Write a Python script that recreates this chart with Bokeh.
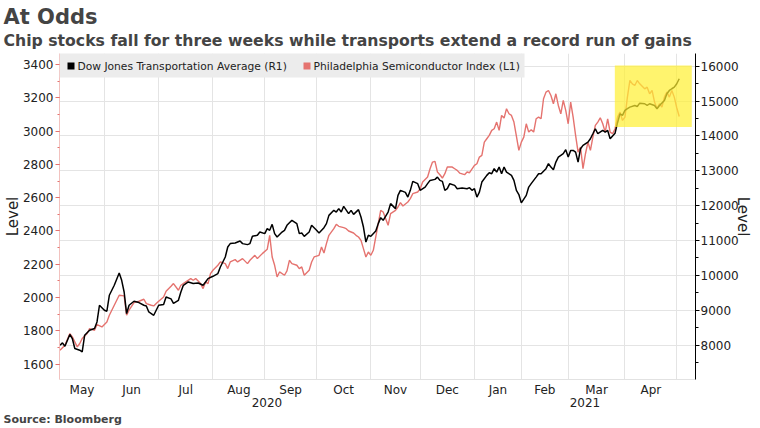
from bokeh.plotting import figure
from bokeh.models import (Range1d, LinearAxis, FixedTicker, Grid, BoxAnnotation, Label, Title)
from bokeh.embed import file_html
from bokeh.resources import INLINE

# ---------------- data (x = trading-day index counted from 2020-05-01) -------------
month_names = ["May", "Jun", "Jul", "Aug", "Sep", "Oct", "Nov", "Dec", "Jan", "Feb", "Mar", "Apr"]
month_start_day = [0, 20, 42, 64, 85, 106, 128, 148, 170, 189, 208, 231, 252]
year_names = ["2020", "2021"]
year_start_day = [0, 170]
series_names = ["Dow Jones Transportation Average  (R1)", "Philadelphia Semiconductor Index (L1)"]

dow_day = [2, 3, 4, 6, 7, 8, 10, 11, 12, 14, 16, 17, 18, 20, 21, 22, 24, 26, 27, 28, 29, 30, 32, 34,
           36, 37, 38, 40, 41, 42, 44, 45, 47, 48, 50, 51, 52, 54, 56, 58, 60, 61, 62, 64, 66, 67,
           69, 70, 71, 73, 75, 76, 78, 79, 80, 82, 83, 85, 86, 87, 88, 89, 90, 92, 93, 94, 95, 96,
           98, 99, 100, 101, 103, 104, 106, 107, 109, 110, 111, 113, 114, 115, 116, 117, 119, 120,
           121, 123, 124, 125, 126, 127, 128, 130, 131, 132, 133, 135, 136, 138, 139, 140, 142, 143,
           144, 145, 147, 148, 150, 151, 152, 154, 155, 156, 157, 158, 159, 160, 162, 163, 165, 167,
           168, 169, 170, 171, 172, 173, 175, 176, 177, 178, 179, 180, 181, 182, 183, 185, 186, 187,
           188, 189, 191, 192, 193, 195, 196, 197, 199, 200, 201, 202, 203, 204, 206, 207, 208, 209,
           210, 211, 212, 213, 214, 216, 217, 218, 219, 220, 222, 223, 224, 225, 227, 228, 229, 230,
           231, 232, 233, 235, 236, 237, 239, 240, 241, 243, 244, 245, 247, 248, 249, 250, 251, 252,
           253]
dow_level = [7998, 8064, 7970, 8305, 8190, 7903, 7855, 7806, 8285, 8428, 8476, 8666, 9144, 9001,
             8972, 9430, 9717, 10070, 9860, 9525, 8906, 9144, 9259, 9221, 9144, 9124, 8952, 8857,
             9001, 9144, 9164, 9382, 9326, 9200, 9287, 9525, 9717, 9812, 9766, 9783, 9717, 9812,
             9909, 9975, 10052, 10241, 10528, 10814, 10912, 10929, 10986, 10912, 10883, 10912,
             11121, 11150, 11244, 11198, 11341, 11293, 11465, 11198, 11101, 11244, 11293, 11436,
             11510, 11579, 11485, 11198, 11216, 11121, 11244, 11436, 11293, 11216, 11370, 11485,
             11722, 11866, 11817, 11915, 11817, 11980, 11771, 11866, 11751, 11886, 11674, 11387,
             10958, 11150, 11121, 11273, 11485, 11657, 11579, 11817, 12058, 11915, 12296, 12439,
             12380, 12247, 12439, 12697, 12631, 12439, 12533, 12631, 12725, 12754, 12820, 12725,
             12697, 12439, 12487, 12631, 12582, 12487, 12505, 12487, 12516, 12439, 12487, 12247,
             12390, 12677, 12869, 12946, 12917, 13061, 12963, 13107, 12917, 13107, 12963, 12869,
             12725, 12439, 12320, 12080, 12296, 12533, 12631, 12820, 12917, 12917, 13061, 13204,
             13107, 13032, 13250, 13393, 13490, 13605, 13393, 13585, 13585, 13536, 13250, 13633,
             13728, 13823, 13920, 14063, 14207, 14063, 14158, 14109, 14158, 13920, 14080, 14380,
             14636, 14588, 14731, 14780, 14825, 14874, 14845, 14940, 14923, 14874, 14923, 14874,
             14780, 14874, 15017, 15209, 15304, 15353, 15398, 15496, 15639]

sox_day = [2, 4, 6, 7, 9, 10, 11, 13, 14, 16, 17, 19, 21, 22, 24, 26, 28, 29, 30, 32, 34, 36, 37,
           39, 40, 41, 42, 44, 45, 47, 48, 50, 51, 53, 55, 56, 57, 59, 60, 61, 62, 63, 64, 66, 67,
           69, 70, 71, 73, 74, 76, 78, 79, 81, 82, 84, 86, 87, 88, 89, 90, 91, 93, 94, 95, 96, 98,
           99, 100, 101, 103, 104, 105, 107, 108, 109, 110, 111, 113, 114, 115, 117, 118, 119, 121,
           122, 123, 124, 125, 126, 127, 128, 129, 130, 131, 132, 133, 135, 136, 138, 139, 140, 141,
           143, 144, 145, 147, 148, 149, 151, 152, 153, 154, 155, 156, 157, 158, 159, 161, 162, 163,
           164, 166, 167, 168, 170, 171, 172, 173, 174, 175, 176, 177, 178, 179, 180, 181, 182, 183,
           184, 185, 186, 187, 188, 189, 190, 191, 192, 193, 194, 195, 196, 197, 198, 199, 200, 201,
           202, 203, 204, 205, 206, 207, 208, 209, 210, 211, 212, 213, 214, 215, 216, 217, 218, 219,
           220, 221, 222, 223, 224, 225, 226, 227, 228, 229, 230, 231, 232, 233, 234, 235, 236, 237,
           239, 240, 241, 242, 243, 244, 245, 246, 247, 248, 249, 250, 251, 252, 253]
sox_level = [1684, 1714, 1784, 1764, 1704, 1724, 1754, 1784, 1814, 1804, 1838, 1824, 1854, 1894,
             1954, 2014, 2010, 1894, 1924, 1970, 1978, 1990, 1964, 1954, 1950, 1964, 1978, 2004,
             2038, 2068, 2084, 2044, 2074, 2094, 2114, 2104, 2114, 2084, 2054, 2094, 2084, 2144,
             2164, 2194, 2214, 2204, 2174, 2214, 2228, 2214, 2234, 2204, 2224, 2254, 2234, 2264,
             2290, 2374, 2244, 2194, 2124, 2154, 2134, 2160, 2224, 2204, 2194, 2174, 2184, 2134,
             2164, 2214, 2244, 2254, 2304, 2268, 2324, 2374, 2414, 2440, 2428, 2420, 2414, 2400,
             2388, 2374, 2364, 2344, 2294, 2244, 2274, 2254, 2284, 2364, 2444, 2524, 2514, 2434,
             2504, 2524, 2544, 2570, 2550, 2574, 2594, 2624, 2634, 2654, 2694, 2724, 2774, 2814,
             2818, 2754, 2738, 2718, 2744, 2784, 2784, 2774, 2764, 2748, 2738, 2754, 2750, 2794,
             2804, 2844, 2854, 2934, 2954, 2974, 3004, 3014, 3054, 3004, 3094, 3078, 3134, 3104,
             3094, 3054, 2970, 2884, 2934, 2964, 3044, 2994, 3008, 2994, 3074, 3084, 3074, 3194,
             3234, 3244, 3214, 3164, 3224, 3154, 3104, 3184, 3124, 3044, 3174, 3084, 2974, 2874,
             2904, 2774, 2864, 2934, 2884, 2964, 3034, 3054, 3080, 3044, 2994, 3074, 2994, 2984,
             3014, 3084, 3114, 3064, 3084, 3204, 3304, 3284, 3274, 3304, 3284, 3254, 3264, 3224,
             3244, 3174, 3134, 3164, 3144, 3204, 3234, 3204, 3244, 3204, 3140, 3088]

sox_ticks = list(range(1600, 3401, 200))
dow_ticks = list(range(8000, 16001, 1000))

# ---------------- styling constants -------------
RED = "#e5736f"
FONT = "DejaVu Sans"
TXT = "#222222"
X_START, X_END = 1.8, 259.6
SOX_RANGE = (1508, 3466)
DOW_RANGE = (7015, 16364)

p = figure(width=760, height=428, output_backend="svg", toolbar_location=None,
           x_range=Range1d(X_START, X_END), y_range=Range1d(*SOX_RANGE),
           min_border_left=58, min_border_right=65, min_border_top=53, min_border_bottom=49)
p.outline_line_color = None
p.background_fill_color = "white"
p.extra_y_ranges = {"dow": Range1d(*DOW_RANGE)}

# month labels centred in each (visible) month, grid lines at month boundaries
month_centres = []
for a, b in zip(month_start_day[:-1], month_start_day[1:]):
    month_centres.append(round((max(a, X_START) + min(b, X_END)) / 2, 2))
year_bounds = year_start_day + [X_END]
year_centres = [round((max(a, X_START) + min(b, X_END)) / 2, 2)
                for a, b in zip(year_bounds[:-1], year_bounds[1:])]

xa = p.xaxis[0]
xa.ticker = FixedTicker(ticks=month_centres)
xa.major_label_overrides = {c: m for c, m in zip(month_centres, month_names)}
xa.major_tick_line_color = None
xa.minor_tick_line_color = None
xa.major_tick_out = 0
xa.minor_tick_out = 0
xa.major_tick_in = 0
xa.minor_tick_in = 0
xa.axis_line_color = "#e2e2e2"
xa.major_label_standoff = 3
xa.major_label_text_font = FONT
xa.major_label_text_font_size = "12px"
xa.major_label_text_color = TXT

ya_year = LinearAxis(ticker=FixedTicker(ticks=year_centres),
                     major_label_overrides={c: y for c, y in zip(year_centres, year_names)},
                     axis_line_color=None, major_tick_line_color=None,
                     minor_tick_line_color=None, major_tick_out=0, minor_tick_out=0,
                     major_tick_in=0, minor_tick_in=0, major_label_standoff=-2,
                     major_label_text_font=FONT, major_label_text_font_size="12px",
                     major_label_text_color=TXT)
p.add_layout(ya_year, "below")

la = p.yaxis[0]
la.ticker = FixedTicker(ticks=sox_ticks, minor_ticks=list(range(1500, 3466, 100)))
la.axis_label = "Level"
la.axis_label_text_font = FONT
la.axis_label_text_font_size = "15px"
la.axis_label_text_font_style = "normal"
la.axis_label_text_color = TXT
la.axis_label_standoff = -2
la.major_label_text_font = FONT
la.major_label_text_font_size = "12px"
la.major_label_text_color = TXT
la.major_label_standoff = 2
la.axis_line_color = "#f2c2bf"
la.major_tick_line_color = RED
la.minor_tick_line_color = RED
la.major_tick_out = 4
la.major_tick_in = 0
la.minor_tick_out = 2
la.minor_tick_in = 0

ra = LinearAxis(y_range_name="dow",
                ticker=FixedTicker(ticks=dow_ticks, minor_ticks=list(range(7500, 16364, 500))),
                axis_label="Level", axis_label_text_font=FONT, axis_label_text_font_size="15px",
                axis_label_text_font_style="normal", axis_label_text_color=TXT,
                axis_label_standoff=-8,
                major_label_text_font=FONT, major_label_text_font_size="12px",
                major_label_text_color=TXT, major_label_standoff=1,
                axis_line_color="black", major_tick_line_color="black",
                minor_tick_line_color="black", major_tick_out=4, major_tick_in=0,
                minor_tick_out=3, minor_tick_in=0)
p.add_layout(ra, "right")

# grids
p.xgrid.ticker = FixedTicker(ticks=month_start_day[1:])
p.xgrid.grid_line_color = "#e4e4e4"
p.ygrid.visible = False
p.add_layout(Grid(dimension=1, ticker=FixedTicker(ticks=dow_ticks), y_range_name="dow",
                  grid_line_color="#e4e4e4"), "center")

# series
p.line(sox_day, sox_level, line_color=RED, line_width=1.4)
p.line(dow_day, dow_level, line_color="black", line_width=1.5, y_range_name="dow")

# highlight box around the latest weeks
p.add_layout(BoxAnnotation(left=226.9, right=258.1, bottom=3024, top=3394,
                           fill_color="#fff030", fill_alpha=0.7, line_color=None))

# legend strip (screen units, measured from the frame's lower-left corner)
def sbox(l, r, b, t, color):
    p.add_layout(BoxAnnotation(left=l, right=r, bottom=b, top=t,
                               left_units="screen", right_units="screen",
                               bottom_units="screen", top_units="screen",
                               fill_color=color, fill_alpha=1, line_color=None))

sbox(0, 465, 302, 330, "#ececec")
sbox(8, 15, 310, 317, "black")
sbox(244, 251, 310, 317, RED)
for text, x in zip(series_names, [18, 254]):
    p.add_layout(Label(text=text, x=x, y=313.5, x_units="screen", y_units="screen",
                       text_font=FONT, text_font_size="10.7px", text_color=TXT,
                       text_baseline="middle", text_align="left"))

# titles and source
p.add_layout(Title(text="Chip stocks fall for three weeks while transports extend a record run of gains",
                   text_font=FONT, text_font_size="15.7px", text_font_style="bold",
                   align="left", offset=-56, standoff=8), "above")
p.add_layout(Title(text="At Odds", text_font=FONT, text_font_size="21px", text_font_style="bold",
                   align="left", offset=-56, standoff=-8), "above")
p.add_layout(Title(text="Source: Bloomberg", text_font=FONT, text_font_size="11px",
                   text_font_style="bold", align="left", offset=-56, standoff=2), "below")

open("out.html", "w").write(file_html(p, INLINE))
